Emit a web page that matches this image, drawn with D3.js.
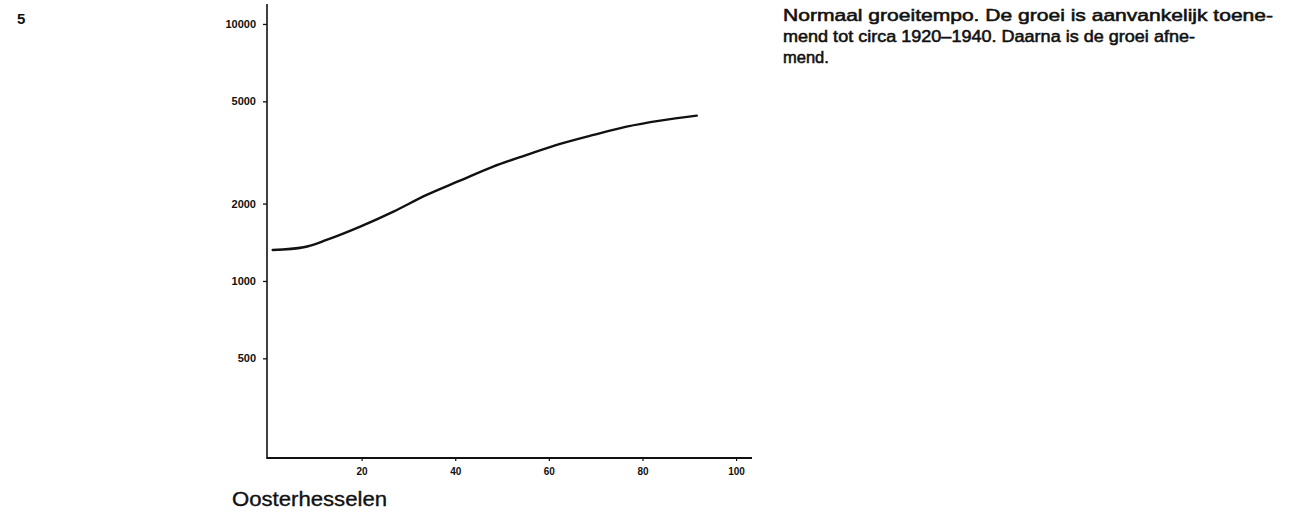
<!DOCTYPE html>
<html>
<head>
<meta charset="utf-8">
<script src="https://cdn.jsdelivr.net/npm/d3@7"></script>
<style>
  html, body { margin: 0; padding: 0; background: #fff; }
  svg { display: block; }
</style>
</head>
<body>
<svg id="chart" width="1313" height="514"></svg>
<script>
// Population of Oosterhesselen over time (years after 1900), log scale
const years = [1, 7.6, 12.5, 19.7, 26.8, 33.9, 41, 48.1, 55.3, 62.4, 69.5, 76.6, 83.8, 91.6];
const population = [1320, 1352, 1444, 1627, 1861, 2161, 2455, 2786, 3093, 3413, 3700, 3985, 4206, 4397];
const yTicks = [500, 1000, 2000, 5000, 10000];
const xTicks = [20, 40, 60, 80, 100];
const figureNumber = "5";
const placeName = "Oosterhesselen";
const captionLines = [
  "Normaal groeitempo. De groei is aanvankelijk toene-",
  "mend tot circa 1920\u20131940. Daarna is de groei afne-",
  "mend."
];

const svg = d3.select("#chart");
const ink = "#111";
const font = "Liberation Sans, Arial, sans-serif";

const x = d3.scaleLinear().domain([0, 103.4]).range([268, 752]);
const y = d3.scaleLog().domain([200, 12000]).range([460.6, 3.6]);

// axes
const yAxis = d3.axisLeft(y).tickValues(yTicks).tickFormat(d3.format("d"))
  .tickSize(4).tickPadding(7);
const gy = svg.append("g").attr("transform", "translate(267,0)").call(yAxis);
gy.select(".domain").remove();
gy.append("line").attr("x1", 0).attr("x2", 0).attr("y1", 4).attr("y2", 459)
  .attr("stroke", ink).attr("stroke-width", 1.6);
gy.selectAll(".tick line").attr("stroke", ink).attr("stroke-width", 1.3);
gy.selectAll(".tick text")
  .attr("fill", ink).attr("font-family", font)
  .attr("font-weight", "bold").attr("font-size", 11);

const xAxis = d3.axisBottom(x).tickValues(xTicks).tickFormat(d3.format("d"))
  .tickSize(3).tickPadding(7);
const gx = svg.append("g").attr("transform", "translate(0,458)").call(xAxis);
gx.select(".domain").remove();
gx.append("line").attr("x1", 267).attr("x2", 752).attr("y1", 0).attr("y2", 0)
  .attr("stroke", ink).attr("stroke-width", 1.8);
gx.selectAll(".tick line").attr("stroke", ink).attr("stroke-width", 1.2);
gx.selectAll(".tick text")
  .attr("fill", ink).attr("font-family", font)
  .attr("font-weight", "bold").attr("font-size", 10);

// population curve
const series = years.map((yr, i) => ({ yr, v: population[i] }));
const line = d3.line().x(d => x(d.yr)).y(d => y(d.v)).curve(d3.curveCatmullRom.alpha(0.5));
svg.append("path").datum(series).attr("d", line)
  .attr("fill", "none").attr("stroke", ink).attr("stroke-width", 2.4)
  .attr("stroke-linecap", "round");

// figure number and place name
svg.append("text").attr("x", 17).attr("y", 24).text(figureNumber)
  .attr("font-family", font).attr("font-weight", "bold")
  .attr("font-size", 15).attr("fill", ink);

svg.append("text").attr("x", 232).attr("y", 506).text(placeName)
  .attr("font-family", font)
  .attr("font-size", 19.5).attr("fill", ink)
  .attr("stroke", ink).attr("stroke-width", 0.35)
  .attr("textLength", 155).attr("lengthAdjust", "spacingAndGlyphs");

// caption
const cap = svg.append("g").attr("font-family", font)
  .attr("font-size", 16.5).attr("fill", ink)
  .attr("stroke", ink).attr("stroke-width", 0.55);
const capWidths = [490, 412, null];
captionLines.forEach((t, i) => {
  const el = cap.append("text").attr("x", 783).attr("y", 21 + i * 21).text(t);
  if (capWidths[i]) el.attr("textLength", capWidths[i]).attr("lengthAdjust", "spacingAndGlyphs");
});
</script>
</body>
</html>
